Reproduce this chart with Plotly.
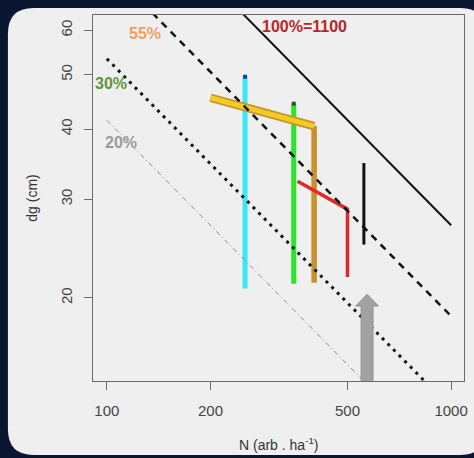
import plotly.graph_objects as go
import math

# ---- data ----
ref_N = [100, 1000]
ref_dg_100 = [113.2, 26.95]
ref_dg_55 = [77.9, 18.57]
ref_dg_30 = [53.4, 12.73]
ref_dg_20 = [41.5, 9.88]

cyan_N = [252, 252]
cyan_dg = [49.6, 20.8]
green_N = [349, 349]
green_dg = [44.4, 21.2]
gold_diag_N = [200, 400]
gold_diag_dg = [45.5, 40.5]
gold_vert_N = [400, 400]
gold_vert_dg = [40.5, 21.3]
red_N = [358, 500, 500]
red_dg = [32.3, 28.8, 21.8]
black_N = [558, 558]
black_dg = [34.8, 24.9]
arrow_N = 570
arrow_tip_dg = 20.3
arrow_base_dg = 19.35
arrow_foot_dg = 13.0

x_ticks = [100, 200, 500, 1000]
y_ticks = [20, 30, 40, 50, 60]

labels = ["100%=1100", "55%", "30%", "20%"]

# ---- layout geometry ----
W, H = 474, 458
L, R, T, B = 93, 468, 15, 381
xr = [1.9598, 3.0374]
yr = [1.153, 1.8055]

fig = go.Figure()

def line(x, y, color, width, dash="solid"):
    fig.add_trace(go.Scatter(x=x, y=y, mode="lines",
                             line=dict(color=color, width=width, dash=dash),
                             hoverinfo="skip", showlegend=False))

# arrow polygon (log space widths)
def lx(n, dpx):
    return 10 ** (math.log10(n) + dpx / 348.0)
ax_ = [lx(arrow_N, -6), lx(arrow_N, -6), lx(arrow_N, -11.5), arrow_N,
       lx(arrow_N, 11.5), lx(arrow_N, 6), lx(arrow_N, 6), lx(arrow_N, -6)]
ay_ = [arrow_foot_dg, arrow_base_dg, arrow_base_dg, arrow_tip_dg,
       arrow_base_dg, arrow_base_dg, arrow_foot_dg, arrow_foot_dg]

line(cyan_N, cyan_dg, "#38E8F2", 5)
line(green_N, green_dg, "#2AE62A", 5)
line(gold_vert_N, gold_vert_dg, "#C8912C", 5.5)
line(gold_diag_N, gold_diag_dg, "#C8902A", 8.5)
line(gold_diag_N, gold_diag_dg, "#F2CB24", 5)
line(red_N, red_dg, "#DE2A2A", 3.5)
line(black_N, black_dg, "#111111", 3)

fig.add_trace(go.Scatter(x=[cyan_N[0]], y=[cyan_dg[0]], mode="markers",
                         marker=dict(color="#23418A", size=4, symbol="square"),
                         hoverinfo="skip", showlegend=False))
fig.add_trace(go.Scatter(x=[green_N[0]], y=[green_dg[0]], mode="markers",
                         marker=dict(color="#3B4A30", size=4, symbol="square"),
                         hoverinfo="skip", showlegend=False))

# reference lines
line(ref_N, ref_dg_20, "#8A8A8A", 1, "5px,3px,1px,3px")
line(ref_N, ref_dg_30, "#111111", 3, "3px,5px")
line(ref_N, ref_dg_55, "#111111", 2.5, "7px,6px")
line(ref_N, ref_dg_100, "#111111", 2)

fig.add_trace(go.Scatter(x=ax_, y=ay_, mode="lines", fill="toself",
                         fillcolor="#A2A2A2", line=dict(color="#8E8E8E", width=1),
                         hoverinfo="skip", showlegend=False))

def px2paper(px, py):
    return (px - L) / (R - L), (B - py) / (B - T)

# background rounded panel
x0, y0, x1, y1, r = 7, 8, 490, 455, 26
def P(px, py):
    a, b = px2paper(px, py)
    return f"{a:.5f},{b:.5f}"
path = (f"M {P(x0+r,y0)} L {P(x1-r,y0)} Q {P(x1,y0)} {P(x1,y0+r)} "
        f"L {P(x1,y1-r)} Q {P(x1,y1)} {P(x1-r,y1)} L {P(x0+r,y1)} "
        f"Q {P(x0,y1)} {P(x0,y1-r)} L {P(x0,y0+r)} Q {P(x0,y0)} {P(x0+r,y0)} Z")
fig.add_shape(type="path", path=path, xref="paper", yref="paper",
              fillcolor="#EFEFEF", line=dict(width=0), layer="below")

annots = []
def txt(text, px, py, color, size=16, bold=True, angle=0):
    a, b = px2paper(px, py)
    annots.append(dict(text=f"<b>{text}</b>" if bold else text, x=a, y=b,
                       xref="paper", yref="paper", showarrow=False,
                       xanchor="center", yanchor="middle", textangle=angle,
                       font=dict(family="Liberation Sans, Arial", size=size, color=color)))

txt(labels[0], 307, 26, "#B8262A", 16)
txt(labels[1], 146, 33, "#EE9F62", 16)
txt(labels[2], 111, 83, "#5E9640", 16)
txt(labels[3], 121, 142, "#9A9A9A", 16)
txt("dg (cm)", 31, 198, "#333333", 14, bold=False, angle=-90)
txt("N (arb . ha<sup>-1</sup>)", 281, 444, "#333333", 14, bold=False)

axis_common = dict(type="log", showgrid=False, zeroline=False,
                   showline=True, linecolor="#6A6A6A", linewidth=1.2, mirror=True,
                   ticks="outside", ticklen=8, tickcolor="#6A6A6A", tickwidth=1.2,
                   tickfont=dict(family="Liberation Sans, Arial", size=15, color="#444444"))

fig.update_layout(
    width=W, height=H,
    margin=dict(l=L, r=W - R, t=T, b=H - B, pad=0),
    paper_bgcolor="#0B1730", plot_bgcolor="#EFEFEF",
    xaxis=dict(range=xr, tickvals=x_ticks, ticktext=[str(v) for v in x_ticks],
               ticklabelstandoff=8, **axis_common),
    yaxis=dict(range=yr, tickvals=y_ticks, ticktext=[str(v) for v in y_ticks],
               tickangle=-90, ticklabelstandoff=6, **axis_common),
    annotations=annots,
)

fig.write_html("out.html", config={"displayModeBar": False},
               post_script="document.body.style.margin='0';document.body.style.padding='0';document.body.style.background='#0B1730';")
